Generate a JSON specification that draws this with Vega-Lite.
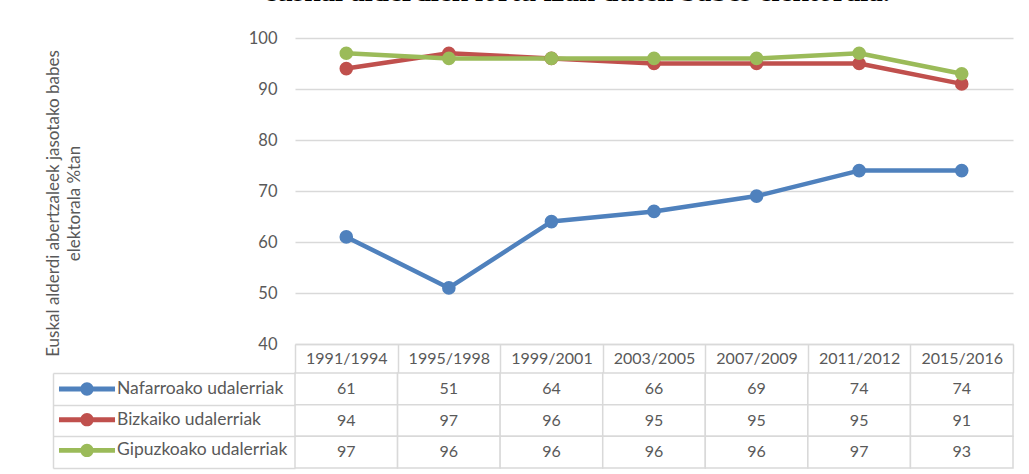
{
  "$schema": "https://vega.github.io/schema/vega-lite/v6.json",
  "width": 718,
  "height": 306,
  "autosize": "none",
  "padding": {"left": 295, "top": 38, "right": 16, "bottom": 130},
  "background": "white",
  "config": {"view": {"stroke": null}, "font": "Lato"},
  "title": {
    "text": "euskal alderdiek lortu izan duten babes elektorala.",
    "font": "Liberation Serif",
    "fontSize": 29,
    "fontWeight": "bold",
    "color": "#000000",
    "anchor": "start",
    "frame": "group",
    "dx": -31,
    "offset": 0,
    "baseline": "alphabetic"
  },
  "data": {
    "values": [
      {"period": "1991/1994", "series": "Nafarroako udalerriak", "value": 61},
      {"period": "1995/1998", "series": "Nafarroako udalerriak", "value": 51},
      {"period": "1999/2001", "series": "Nafarroako udalerriak", "value": 64},
      {"period": "2003/2005", "series": "Nafarroako udalerriak", "value": 66},
      {"period": "2007/2009", "series": "Nafarroako udalerriak", "value": 69},
      {"period": "2011/2012", "series": "Nafarroako udalerriak", "value": 74},
      {"period": "2015/2016", "series": "Nafarroako udalerriak", "value": 74},
      {"period": "1991/1994", "series": "Bizkaiko udalerriak", "value": 94},
      {"period": "1995/1998", "series": "Bizkaiko udalerriak", "value": 97},
      {"period": "1999/2001", "series": "Bizkaiko udalerriak", "value": 96},
      {"period": "2003/2005", "series": "Bizkaiko udalerriak", "value": 95},
      {"period": "2007/2009", "series": "Bizkaiko udalerriak", "value": 95},
      {"period": "2011/2012", "series": "Bizkaiko udalerriak", "value": 95},
      {"period": "2015/2016", "series": "Bizkaiko udalerriak", "value": 91},
      {"period": "1991/1994", "series": "Gipuzkoako udalerriak", "value": 97},
      {"period": "1995/1998", "series": "Gipuzkoako udalerriak", "value": 96},
      {"period": "1999/2001", "series": "Gipuzkoako udalerriak", "value": 96},
      {"period": "2003/2005", "series": "Gipuzkoako udalerriak", "value": 96},
      {"period": "2007/2009", "series": "Gipuzkoako udalerriak", "value": 96},
      {"period": "2011/2012", "series": "Gipuzkoako udalerriak", "value": 97},
      {"period": "2015/2016", "series": "Gipuzkoako udalerriak", "value": 93}
    ]
  },
  "layer": [
    {
      "encoding": {
        "x": {
          "field": "period",
          "type": "nominal",
          "sort": null,
          "scale": {
            "type": "band",
            "domain": ["1991/1994", "1995/1998", "1999/2001", "2003/2005", "2007/2009", "2011/2012", "2015/2016"],
            "paddingInner": 0,
            "paddingOuter": 0
          },
          "axis": {
            "orient": "bottom",
            "title": null,
            "grid": false,
            "domain": true,
            "domainColor": "#d9d9d9",
            "domainWidth": 1.5,
            "ticks": true,
            "tickBand": "extent",
            "tickSize": 29,
            "tickColor": "#d9d9d9",
            "tickWidth": 1.5,
            "labelPadding": -14.5,
            "labelBaseline": "middle",
            "labelAngle": 0,
            "labelFont": "Lato",
            "labelFontSize": 16,
            "labelColor": "#595959"
          }
        },
        "y": {
          "field": "value",
          "type": "quantitative",
          "scale": {"domain": [40, 100], "nice": false, "zero": false},
          "axis": {
            "orient": "left",
            "values": [40, 50, 60, 70, 80, 90, 100],
            "domain": false,
            "ticks": false,
            "grid": true,
            "gridColor": "#d9d9d9",
            "gridWidth": 1.5,
            "labelPadding": 18,
            "labelFont": "Lato",
            "labelFontSize": 16.5,
            "labelColor": "#595959",
            "title": ["Euskal alderdi abertzaleek jasotako babes", "elektorala %tan"],
            "titleFont": "Lato",
            "titleFontSize": 17,
            "titleFontWeight": "normal",
            "titleColor": "#595959",
            "titleAngle": -90,
            "titleBaseline": "top",
            "titleAlign": "center",
            "titleX": -250,
            "titleY": 165,
            "titleLineHeight": 21
          }
        },
        "color": {
          "field": "series",
          "type": "nominal",
          "sort": null,
          "scale": {
            "domain": ["Nafarroako udalerriak", "Bizkaiko udalerriak", "Gipuzkoako udalerriak"],
            "range": ["#4f81bd", "#c0504d", "#9bbb59"]
          },
          "legend": {
            "orient": "none",
            "legendX": -217.5,
            "legendY": 341.5,
            "direction": "vertical",
            "title": null,
            "padding": 0,
            "rowPadding": 12.7,
            "symbolType": "M-2.95,-0.26L2.95,-0.26L2.95,0.26L-2.95,0.26Z M0.7,0A0.7,0.7 0 1,1 -0.7,0A0.7,0.7 0 1,1 0.7,0Z",
            "symbolSize": 361,
            "symbolStrokeWidth": 0,
            "labelOffset": 20.5,
            "labelFont": "Lato",
            "labelFontSize": 17.5,
            "labelColor": "#595959",
            "labelLimit": 300,
            "labelBaseline": "middle",
            "encode": {
              "symbols": {
                "update": {
                  "fill": {"scale": "color", "field": "value"},
                  "stroke": {"value": "transparent"}
                }
              }
            }
          }
        }
      },
      "layer": [
        {"mark": {"type": "line", "strokeWidth": 4.5, "strokeJoin": "round", "strokeCap": "round"}},
        {"mark": {"type": "point", "shape": "circle", "filled": true, "opacity": 1, "size": 185}}
      ]
    },
    {
      "encoding": {
        "x": {
          "field": "period",
          "type": "nominal",
          "sort": null,
          "scale": {
            "type": "band",
            "domain": ["1991/1994", "1995/1998", "1999/2001", "2003/2005", "2007/2009", "2011/2012", "2015/2016"],
            "paddingInner": 0,
            "paddingOuter": 0
          }
        },
        "y": {
          "field": "series",
          "type": "nominal",
          "sort": null,
          "scale": {
            "type": "band",
            "domain": ["Nafarroako udalerriak", "Bizkaiko udalerriak", "Gipuzkoako udalerriak"],
            "range": [335, 430],
            "paddingInner": 0,
            "paddingOuter": 0
          },
          "axis": {
            "orient": "left",
            "offset": 242,
            "title": null,
            "labels": false,
            "grid": false,
            "domain": true,
            "domainColor": "#d9d9d9",
            "domainWidth": 1.5,
            "ticks": true,
            "tickBand": "extent",
            "tickSize": -242,
            "tickColor": "#d9d9d9",
            "tickWidth": 1.5
          }
        }
      },
      "layer": [
        {"mark": {"type": "rect", "fill": "#ffffff", "stroke": "#d9d9d9", "strokeWidth": 1.5}},
        {
          "mark": {"type": "text", "font": "Lato", "fontSize": 16, "color": "#595959", "align": "center", "baseline": "middle"},
          "encoding": {"text": {"field": "value", "type": "quantitative"}}
        }
      ]
    }
  ],
  "resolve": {"scale": {"y": "independent"}, "axis": {"y": "independent"}}
}
